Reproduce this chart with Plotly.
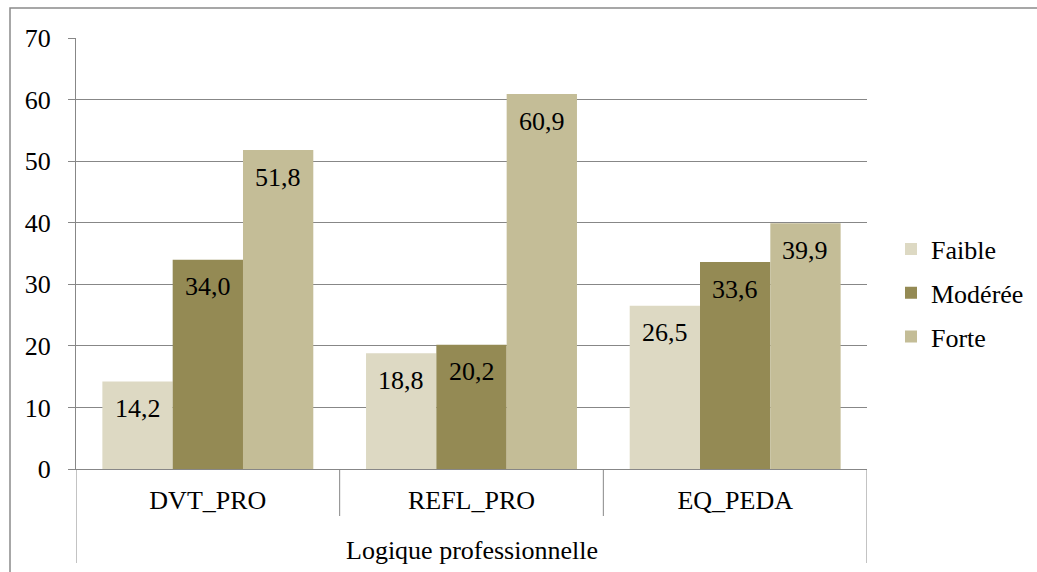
import plotly.graph_objects as go

categories = ["DVT_PRO", "REFL_PRO", "EQ_PEDA"]
series_names = ["Faible", "Modérée", "Forte"]
faible = [14.2, 18.8, 26.5]
moderee = [34.0, 20.2, 33.6]
forte = [51.8, 60.9, 39.9]
colors = ["#DDD9C3", "#948A54", "#C4BD97"]
y_ticks = [0, 10, 20, 30, 40, 50, 60, 70]
group_title = "Logique professionnelle"

FONT = "Liberation Serif"
FS = 26
GRID = "#878787"

W, H = 1037, 572
L, R, T, B = 76, 170, 38, 103
ph = H - T - B
pw = W - L - R
BARGAP = 0.2
bar_px = pw / len(categories) * (1 - BARGAP) / len(series_names)

fig = go.Figure()
all_vals = [faible, moderee, forte]
for i, (name, vals, col) in enumerate(zip(series_names, all_vals, colors)):
    fig.add_trace(go.Bar(
        x=categories, y=vals, name=name,
        marker=dict(color=col, line=dict(width=0)),
        legendgroup=name, hoverinfo="skip",
    ))
    for c, v in zip(categories, vals):
        fig.add_annotation(
            x=c, y=v, xref="x", yref="y",
            text=f"{v:.1f}".replace(".", ","),
            showarrow=False, xanchor="center", yanchor="middle",
            xshift=(i - 1) * bar_px, yshift=-27,
            font=dict(family=FONT, size=FS, color="black"),
        )

fig.update_layout(
    width=W, height=H,
    margin=dict(l=L, r=R, t=T, b=B, pad=0, autoexpand=False),
    paper_bgcolor="white", plot_bgcolor="white",
    barmode="group", bargap=BARGAP, bargroupgap=0,
    font=dict(family=FONT, size=FS, color="black"),
    showlegend=True,
    legend=dict(x=(891 - L) / pw, y=(469 - 293) / ph, xanchor="left", yanchor="middle",
                traceorder="grouped", tracegroupgap=7,
                font=dict(family=FONT, size=FS, color="black"),
                itemwidth=30, bgcolor="rgba(0,0,0,0)"),
    xaxis=dict(showgrid=False, ticks="", showline=True, linecolor=GRID, linewidth=1,
               ticklabelstandoff=8, tickfont=dict(family=FONT, size=FS, color="black"),
               range=[-0.5, 2.5], fixedrange=True, automargin=False),
    yaxis=dict(range=[0, 70], tickvals=y_ticks, showgrid=True, gridcolor=GRID, gridwidth=1,
               showline=True, linecolor=GRID, linewidth=1, ticks="outside", ticklen=7,
               tickcolor=GRID, ticklabelstandoff=12, zeroline=False, fixedrange=True,
               automargin=False, tickfont=dict(family=FONT, size=FS, color="black")),
)

# category separators and box below the axis
sep_y = -47 / ph
box_y = -94 / ph
for xv in [0.5, 1.5]:
    fig.add_shape(type="line", xref="x", yref="paper", x0=xv, x1=xv, y0=0, y1=sep_y,
                  line=dict(color=GRID, width=1))
for xv in [-0.5, 2.5]:
    fig.add_shape(type="line", xref="x", yref="paper", x0=xv, x1=xv, y0=0, y1=box_y,
                  line=dict(color=GRID, width=1))

fig.add_annotation(text=group_title, xref="paper", yref="paper",
                   x=0.5, y=-(550 - (H - B)) / ph, showarrow=False,
                   xanchor="center", yanchor="middle",
                   font=dict(family=FONT, size=FS, color="black"))

# outer chart border (top and left visible)
fig.add_shape(type="rect", xref="paper", yref="paper",
              x0=(10 - L) / pw, x1=(W + 20 - L) / pw,
              y0=-(H + 20 - (H - B)) / ph, y1=((H - B) - 8) / ph,
              line=dict(color="#8a8a8a", width=1.5), layer="below")

fig.write_html("out.html", config={"displayModeBar": False},
               post_script="document.body.style.margin='0';document.body.style.padding='0';")
